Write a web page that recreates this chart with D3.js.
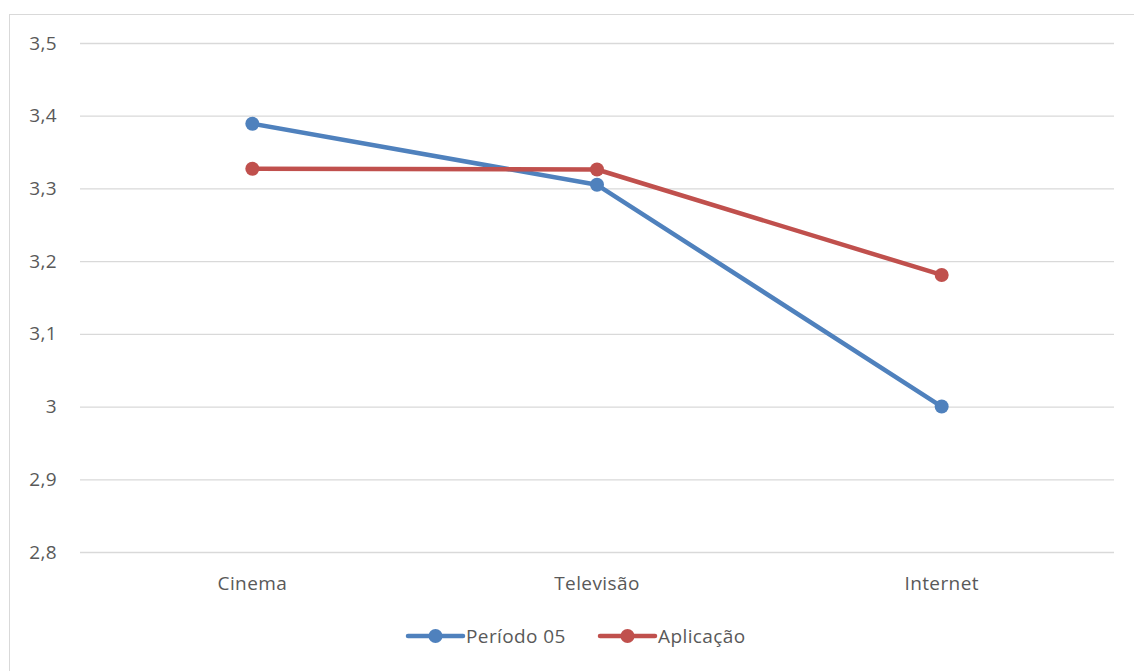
<!DOCTYPE html>
<html><head><meta charset="utf-8">
<script src="https://cdn.jsdelivr.net/npm/d3@7"></script>
<style>body{margin:0;background:#fff}svg{display:block}text{font-family:"Open Sans",sans-serif;fill:#595959}</style>
</head><body><svg id="c" width="1134" height="671"></svg>
<script>
const categories = ["Cinema", "Televisão", "Internet"];
const periodo05 = [3.389, 3.305, 3.0];
const aplicacao = [3.327, 3.326, 3.181];
const yTicks = [2.8, 2.9, 3.0, 3.1, 3.2, 3.3, 3.4, 3.5];
const seriesNames = ["Período 05", "Aplicação"];
const colors = ["#4F81BD", "#C0504D"];

const FS = 19, LS = "0.4px";
const svg = d3.select("#c");
svg.append("rect").attr("x", 9.5).attr("y", 14.5).attr("width", 1140).attr("height", 680)
  .attr("fill", "none").attr("stroke", "#d9d9d9").attr("stroke-width", 1);

const x = d3.scaleBand().domain(categories).range([80, 1114]);
const y = d3.scaleLinear().domain([2.8, 3.5]).range([552, 43]);

const fmt = v => (Math.abs(v - 3) < 1e-9 ? "3" : d3.format(".1f")(v).replace(".", ","));

const yAxis = d3.axisLeft(y).tickValues(yTicks).tickSize(-(1114 - 80)).tickFormat(fmt).tickPadding(23);
const gy = svg.append("g").attr("transform", "translate(80,0)").call(yAxis);
gy.select(".domain").remove();
gy.selectAll(".tick line").attr("stroke", "#d9d9d9").attr("stroke-width", 1.3);
gy.selectAll(".tick text").attr("font-size", FS).attr("fill", "#595959").style("letter-spacing", LS).style("font-family", '"Open Sans",sans-serif');

const xAxis = d3.axisBottom(x).tickSize(0).tickPadding(25);
const gx = svg.append("g").attr("transform", "translate(0,552)").call(xAxis);
gx.select(".domain").remove();
gx.selectAll(".tick text").attr("font-size", FS).attr("fill", "#595959").style("letter-spacing", LS).style("font-family", '"Open Sans",sans-serif');

const series = [periodo05, aplicacao];
const line = d3.line().x((d, i) => x(categories[i]) + x.bandwidth() / 2).y(d => y(d));
series.forEach((s, k) => {
  svg.append("path").datum(s).attr("d", line).attr("fill", "none")
    .attr("stroke", colors[k]).attr("stroke-width", 4.5).attr("stroke-linejoin", "round").attr("stroke-linecap", "round");
});
series.forEach((s, k) => {
  svg.selectAll(null).data(s).enter().append("circle")
    .attr("cx", (d, i) => x(categories[i]) + x.bandwidth() / 2).attr("cy", d => y(d))
    .attr("r", 7).attr("fill", colors[k]);
});

// legend
const legX = [408, 600];
seriesNames.forEach((n, k) => {
  const g = svg.append("g").attr("transform", `translate(${legX[k]},636)`);
  g.append("line").attr("x1", 0).attr("x2", 55).attr("y1", 0).attr("y2", 0)
    .attr("stroke", colors[k]).attr("stroke-width", 4.5).attr("stroke-linecap", "round");
  g.append("circle").attr("cx", 27.5).attr("cy", 0).attr("r", 7).attr("fill", colors[k]);
  g.append("text").attr("x", 58).attr("y", 7).attr("font-size", FS).style("letter-spacing", LS).text(n);
});
</script></body></html>
